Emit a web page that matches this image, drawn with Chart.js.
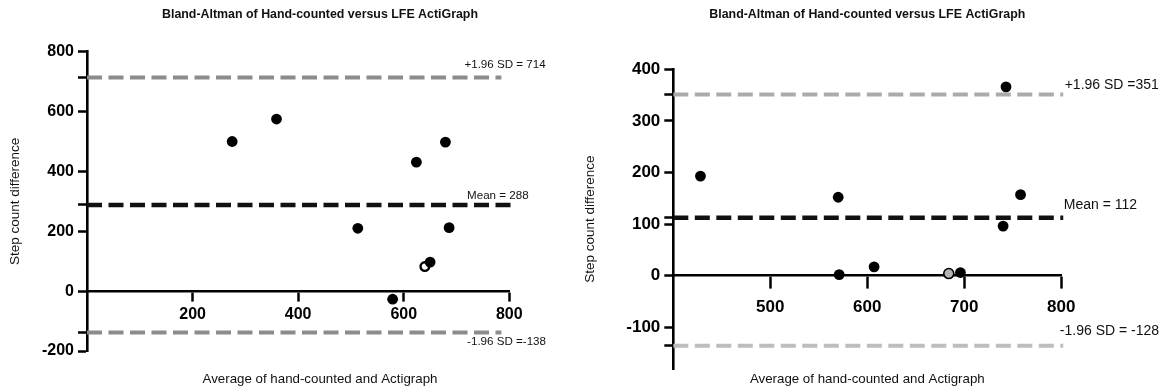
<!DOCTYPE html>
<html>
<head>
<meta charset="utf-8">
<script src="https://cdn.jsdelivr.net/npm/chart.js@4.4.1/dist/chart.umd.min.js"></script>
<style>
    body { margin: 0; background: #fff; }
    #wrap { position: relative; width: 1168px; height: 390px; overflow: hidden; }
    #wrap canvas { position: absolute; top: 0; }
</style>
</head>
<body>
<div id="wrap">
    <canvas id="leftChart" width="640" height="390" style="left:0"></canvas>
    <canvas id="rightChart" width="584" height="390" style="left:584px"></canvas>
</div>
<script>
const chartTitle = 'Bland-Altman of Hand-counted versus LFE ActiGraph';
const xCaption = 'Average of hand-counted and Actigraph';
const yCaption = 'Step count difference';

// left panel values
const leftAvg = [275, 359, 513, 624, 679, 686, 650, 579];
const leftDiff = [500, 575, 210, 431, 498, 212, 97, -27];
const leftOpenAvg = [640];
const leftOpenDiff = [82];
const leftLineValues = [714, 288, -138];
const leftLineLabels = ['+1.96 SD = 714', 'Mean = 288', '-1.96 SD =-138'];
const leftXTicks = [200, 400, 600, 800];
const leftYTicks = [-200, 0, 200, 400, 600, 800];

// right panel values
const rightAvg = [428, 570, 571, 607, 696, 743, 740, 758];
const rightDiff = [193, 152, 2, 17, 6, 366, 96, 157];
const rightGreyAvg = [684];
const rightGreyDiff = [4];
const rightLineValues = [351, 112, -136];
const rightLineLabels = ['+1.96 SD =351', 'Mean = 112', '-1.96 SD = -128'];
const rightXTicks = [500, 600, 700, 800];
const rightYTicks = [-100, 0, 100, 200, 300, 400];

Chart.defaults.font.family = "'Liberation Sans', Arial, sans-serif";
Chart.defaults.color = '#000';

function toPoints(xs, ys) {
    return xs.map((x, i) => ({x: x, y: ys[i]}));
}

// text next to the reference lines
const lineLabelPlugin = {
    id: 'lineLabels',
    afterDatasetsDraw(chart, args, opts) {
        const ctx = chart.ctx;
        const xs = chart.scales.x;
        const ys = chart.scales.y;
        ctx.save();
        ctx.font = opts.font;
        ctx.fillStyle = '#111';
        ctx.textAlign = 'left';
        ctx.textBaseline = 'middle';
        opts.values.forEach((v, i) => {
            ctx.fillText(opts.texts[i], xs.getPixelForValue(opts.xAt[i]), ys.getPixelForValue(v) + opts.dy[i]);
        });
        ctx.restore();
    }
};

function refLine(value, x0, x1, color, width) {
    return {
        data: [{x: x0, y: value}, {x: x1, y: value}],
        showLine: true,
        pointRadius: 0,
        borderColor: color,
        borderWidth: width,
        borderDash: [15, 6.5],
        clip: false,
        order: 1
    };
}

function makeChart(id, cfg) {
    const axisTicks = (vals) => (scale) => { scale.ticks = vals.map(v => ({value: v})); };
    return new Chart(document.getElementById(id), {
        type: 'scatter',
        data: {
            datasets: [
                {data: cfg.points, backgroundColor: '#000', borderColor: '#000', pointRadius: 5.4, pointBorderWidth: 0, order: 0},
                {data: cfg.special, backgroundColor: cfg.specialFill, borderColor: '#000', pointRadius: cfg.specialRadius, pointBorderWidth: cfg.specialBorder, order: 0},
                refLine(cfg.lines[0], cfg.xMin, cfg.lineEnd[0], cfg.sdColors[0], 4),
                refLine(cfg.lines[1], cfg.xMin, cfg.lineEnd[1], '#111', 4.5),
                refLine(cfg.lines[2], cfg.xMin, cfg.lineEnd[2], cfg.sdColors[1], 4)
            ]
        },
        plugins: [lineLabelPlugin],
        options: {
            responsive: false,
            animation: false,
            layout: {padding: 0},
            plugins: {
                legend: {display: false},
                tooltip: {enabled: false},
                title: {
                    display: true, text: chartTitle, color: '#111', fullSize: cfg.fullSize,
                    font: {size: 12.4, weight: 'bold'},
                    padding: {top: 7.56, bottom: cfg.titleBottom}
                },
                subtitle: {
                    display: true, text: xCaption, position: 'bottom', color: '#111', fullSize: cfg.fullSize,
                    font: {size: 13.3},
                    padding: {top: cfg.capTop, bottom: 3.02}
                },
                lineLabels: {
                    values: cfg.lines, texts: cfg.lineTexts, xAt: cfg.labelX, dy: cfg.labelDy,
                    font: cfg.labelSize + "px 'Liberation Sans', Arial, sans-serif"
                }
            },
            scales: {
                x: {
                    type: 'linear',
                    position: {y: 0},
                    min: cfg.xMin, max: cfg.xMax,
                    afterFit: (s) => { s.height = 0; },
                    afterBuildTicks: axisTicks(cfg.xTicks),
                    grid: {drawOnChartArea: false, tickLength: cfg.xTickLen, tickWidth: 2.5, tickColor: '#000'},
                    border: {color: '#000', width: 2.6},
                    ticks: {autoSkip: false, maxRotation: 0, padding: cfg.xPad, color: '#000', font: {size: cfg.tickSize, weight: 'bold'}}
                },
                y: {
                    type: 'linear',
                    min: cfg.yMin, max: cfg.yMax,
                    afterFit: (s) => { s.width = cfg.axisLeft; },
                    afterBuildTicks: axisTicks(cfg.yTicks.concat(cfg.lines).sort((a, b) => a - b)),
                    grid: {drawOnChartArea: false, tickLength: 9, tickWidth: 2.5, tickColor: '#000'},
                    border: {color: '#000', width: 2.6},
                    ticks: {
                        autoSkip: false, padding: 4, color: '#000',
                        font: {size: cfg.tickSize, weight: 'bold'},
                        callback: (v) => cfg.yTicks.includes(v) ? v : ''
                    },
                    title: {
                        display: true, text: yCaption, color: '#111',
                        font: {size: 13.5, lineHeight: 1},
                        padding: {top: cfg.yTitlePad, bottom: 0}
                    }
                },
                // empty right-hand box that keeps room for the line labels
                side: {
                    type: 'linear', position: 'right', display: true,
                    afterFit: (s) => { s.width = cfg.sideWidth; },
                    grid: {display: false}, border: {display: false}, ticks: {display: false}
                }
            }
        }
    });
}

makeChart('leftChart', {
    points: toPoints(leftAvg, leftDiff),
    special: toPoints(leftOpenAvg, leftOpenDiff),
    specialFill: '#fff', specialRadius: 4.3, specialBorder: 2.4,
    lines: leftLineValues, lineTexts: leftLineLabels,
    lineEnd: [785, 806, 785],
    sdColors: ['#8c8c8c', '#8c8c8c'],
    labelX: [715, 720, 720], labelDy: [-12.6, -9, 9.6], labelSize: 11.6,
    xMin: 0, xMax: 800, yMin: -200, yMax: 800,
    xTicks: leftXTicks, yTicks: leftYTicks,
    sideWidth: 640 - 509.3, axisLeft: 87,
    fullSize: true, titleBottom: 29.26, capTop: 20.02,
    xTickLen: 9, xPad: 4.4, tickSize: 16, yTitlePad: 8.95
});

makeChart('rightChart', {
    points: toPoints(rightAvg, rightDiff),
    special: toPoints(rightGreyAvg, rightGreyDiff),
    specialFill: '#b3b3b3', specialRadius: 5, specialBorder: 1.6,
    lines: rightLineValues, lineTexts: rightLineLabels,
    lineEnd: [802, 802, 802],
    sdColors: ['#ababab', '#bdbdbd'],
    labelX: [803.5, 802.5, 798.5], labelDy: [-9, -13, -14.3], labelSize: 14,
    xMin: 400, xMax: 800, yMin: -181, yMax: 400,
    xTicks: rightXTicks, yTicks: rightYTicks,
    sideWidth: 584 - 477.3, axisLeft: 89.3,
    fullSize: false, titleBottom: 46.86, capTop: 2.02,
    xTickLen: 12, xPad: 9, tickSize: 17, yTitlePad: 0
});
</script>
</body>
</html>
